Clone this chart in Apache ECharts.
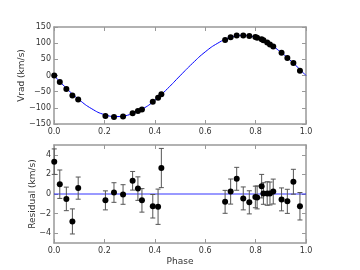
<!DOCTYPE html>
<html><head><meta charset="utf-8">
<script src="https://cdn.jsdelivr.net/npm/echarts@6/dist/echarts.min.js"></script>
<style>html,body{margin:0;padding:0;background:#fff}#c{width:360px;height:270px}</style>
</head><body><div id="c"></div>
<script>
// Observed phases
const obsPhase = [0.001,0.023,0.049,0.073,0.096,0.204,0.238,0.274,0.312,0.333,0.349,0.392,0.413,0.426,
  0.679,0.701,0.725,0.751,0.775,0.799,0.806,0.824,0.831,0.846,0.857,0.870,0.903,0.926,0.950,0.976];
// Radial velocities (km/s)
const obsVrad = [0,-20,-42,-62,-74,-125,-128,-127,-117,-110,-105,-81,-69,-58,
  110,118,124,124,122,119,117,112,109,102,96,90,70,54,39,15];
// Residuals (km/s)
const resid = [3.3,1.0,-0.5,-2.8,0.6,-0.65,0.15,-0.05,1.35,0.55,-0.65,-1.25,-1.3,2.65,
  -0.8,0.25,1.55,-0.45,-0.85,-0.3,-0.35,0.8,0.05,0.05,0.05,0.25,-0.55,-0.75,1.25,-1.25];
// Residual error bars (half-length, km/s)
const residErr = [1.3,1.45,1.2,1.28,1.13,0.97,1.0,1.0,0.95,1.2,1.2,1.2,1.8,2.0,
  1.17,1.28,1.17,1.17,1.18,1.1,1.17,1.2,1.1,1.2,1.17,1.27,1.17,1.23,1.27,1.4];
// Model curve
const modelPhase = [0,0.05,0.1,0.15,0.2,0.25,0.3,0.35,0.4,0.45,0.5,0.55,0.6,0.65,0.7,0.75,0.8,0.85,0.9,0.95,1.0];
const modelVrad = [0,-40,-75,-103,-121,-127,-121,-104,-77,-41,-1,38,73,100,118,124,118,100,72,38,0];
// Zero line for residuals
const zeroPhase = [0,1];
const zeroVal = [0,0];
// Tick labels
const phaseTicks = [0,0.2,0.4,0.6,0.8,1.0];
const vradTicks = [-150,-100,-50,0,50,100,150];
const residTicks = [-4,-2,0,2,4];

const FONT = 'DejaVu Sans';
const frame = {show:true, onZero:false, lineStyle:{color:'#999', width:1.5}};
const tick = {show:true, inside:true, length:4, lineStyle:{color:'#999', width:1}};
const lab = {color:'#333', fontSize:8, fontFamily:FONT};
const fmt = v => (v<0?'\u2212':'') + Math.abs(v);
const fmtP = v => Number(v).toFixed(1);

function xAx(grid, pos, showLab, extra){
  return Object.assign({type:'value', gridIndex:grid, position:pos, min:0, max:1, interval:0.2,
    axisLine:frame, axisTick:tick, splitLine:{show:false},
    axisLabel:Object.assign({show:showLab, margin:4, formatter:fmtP}, lab)}, extra||{});
}
function yAx(grid, pos, showLab, mn, mx, ticks, extra){
  const o = {type:'value', gridIndex:grid, position:pos, min:mn, max:mx,
    axisLine:frame, splitLine:{show:false}};
  if (ticks) {
    o.axisTick = Object.assign({customValues:ticks}, tick);
    o.axisLabel = Object.assign({show:showLab, margin:3, formatter:fmt, customValues:ticks}, lab);
  } else {
    o.interval = 50;
    o.axisTick = tick;
    o.axisLabel = Object.assign({show:showLab, margin:3, formatter:fmt}, lab);
  }
  return Object.assign(o, extra||{});
}
const nameStyle = {color:'#333', fontSize:9, fontFamily:FONT};

const chart = echarts.init(document.getElementById('c'), null, {renderer:'canvas'});
chart.setOption({
  animation:false,
  grid:[{left:54, width:252, top:27, height:97},{left:54, width:252, top:145, height:98}],
  xAxis:[
    xAx(0,'bottom',true),
    xAx(0,'top',false),
    xAx(1,'bottom',true,{name:'Phase', nameLocation:'middle', nameGap:14, nameMoveOverlap:false, nameTextStyle:nameStyle}),
    xAx(1,'top',false)
  ],
  yAxis:[
    yAx(0,'left',true,vradTicks[0],vradTicks[vradTicks.length-1],null,{name:'Vrad (km/s)', nameLocation:'middle', nameGap:28, nameMoveOverlap:false, nameTextStyle:nameStyle}),
    yAx(0,'right',false,vradTicks[0],vradTicks[vradTicks.length-1],null),
    yAx(1,'left',true,-5,5,residTicks,{name:'Residual (km/s)', nameLocation:'middle', nameGap:17, nameMoveOverlap:false, nameTextStyle:nameStyle}),
    yAx(1,'right',false,-5,5,residTicks)
  ],
  series:[
    {type:'line', xAxisIndex:0, yAxisIndex:0, smooth:true, showSymbol:false, symbol:'none',
     lineStyle:{color:'#0000ff', width:1}, data:modelPhase.map((p,i)=>[p,modelVrad[i]]), z:2},
    {type:'scatter', xAxisIndex:0, yAxisIndex:0, symbolSize:6, itemStyle:{color:'#000', opacity:1},
     data:obsPhase.map((p,i)=>[p,obsVrad[i]]), z:3},
    {type:'line', xAxisIndex:2, yAxisIndex:2, showSymbol:false, symbol:'none',
     lineStyle:{color:'#0000ff', width:1.2, opacity:0.8}, data:zeroPhase.map((p,i)=>[p,zeroVal[i]]), z:2},
    {type:'custom', xAxisIndex:2, yAxisIndex:2, z:3,
     data:obsPhase.map((p,i)=>[p,resid[i],residErr[i]]),
     renderItem:function(params, api){
       const x = api.value(0), y = api.value(1), e = api.value(2);
       const hi = api.coord([x, y+e]), lo = api.coord([x, y-e]);
       const st = {stroke:'#555', lineWidth:1};
       const c = 2.5;
       return {type:'group', children:[
         {type:'line', shape:{x1:hi[0],y1:hi[1],x2:lo[0],y2:lo[1]}, style:st},
         {type:'line', shape:{x1:hi[0]-c,y1:hi[1],x2:hi[0]+c,y2:hi[1]}, style:st},
         {type:'line', shape:{x1:lo[0]-c,y1:lo[1],x2:lo[0]+c,y2:lo[1]}, style:st}
       ]};
     }},
    {type:'scatter', xAxisIndex:2, yAxisIndex:2, symbolSize:6, itemStyle:{color:'#000', opacity:1},
     data:obsPhase.map((p,i)=>[p,resid[i]]), z:4}
  ]
});
</script></body></html>
